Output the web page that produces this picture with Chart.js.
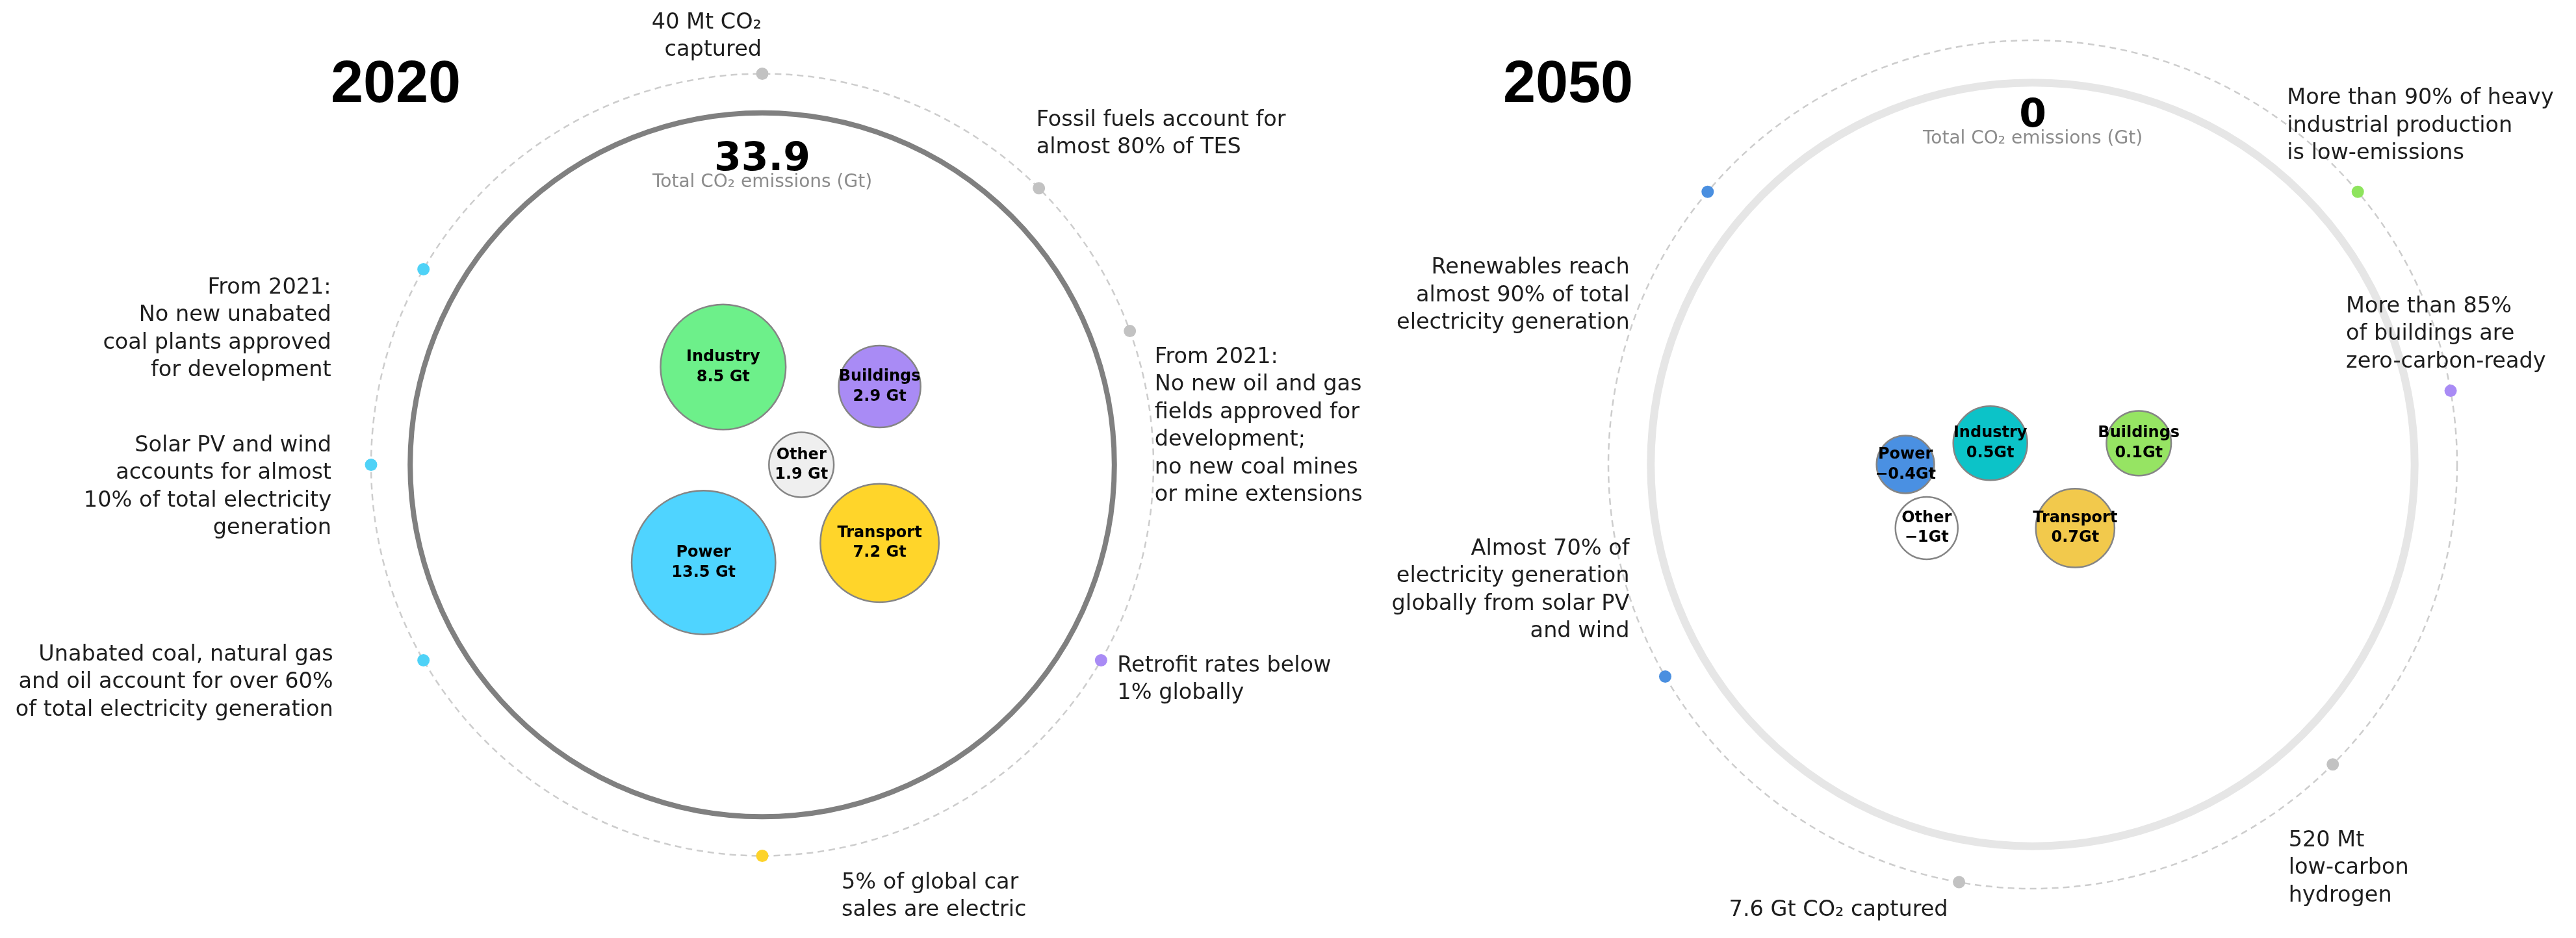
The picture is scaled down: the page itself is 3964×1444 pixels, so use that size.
<!DOCTYPE html>
<html>
<head>
<meta charset="utf-8">
<script src="https://cdn.jsdelivr.net/npm/chart.js@4.4.1/dist/chart.umd.min.js"></script>
<style>
    html, body { margin: 0; padding: 0; background: #fff; }
    #wrap { position: relative; width: 3964px; height: 1444px; }
    #wrap canvas { position: absolute; left: 0; top: 0; }
</style>
</head>
<body>
<div id="wrap">
    <canvas id="chart2020" width="3964" height="1444"></canvas>
    <canvas id="chart2050" width="3964" height="1444"></canvas>
</div>
<script>
// 부문별 CO2 배출량 (Gt)
const sectors = ['Power', 'Industry', 'Transport', 'Buildings', 'Other'];
const emissions2020 = [13.5, 8.5, 7.2, 2.9, 1.9];
const emissions2050 = [-0.4, 0.5, 0.7, 0.1, -1];
const total2020 = 33.9;
const total2050 = 0;

// 버블 배치 (바깥 원 반지름 = 10)
const bubbleX2020 = [-1.5, -1, 3, 3, 1];
const bubbleY2020 = [-2.5, 2.5, -2, 2, 0];
const bubbleX2050 = [-3, -1, 1, 2.5, -2.5];
const bubbleY2050 = [0, 0.5, -1.5, 0.5, -1.5];

// 이정표 (원 위의 각도, 도)
const milestones2020 = [
    '40 Mt CO₂\ncaptured',
    'Fossil fuels account for\nalmost 80% of TES',
    'From 2021:\nNo new oil and gas\nfields approved for\ndevelopment;\nno new coal mines\nor mine extensions',
    'Retrofit rates below\n1% globally',
    '5% of global car\nsales are electric',
    'Unabated coal, natural gas\nand oil account for over 60%\nof total electricity generation',
    'Solar PV and wind\naccounts for almost\n10% of total electricity\ngeneration',
    'From 2021:\nNo new unabated\ncoal plants approved\nfor development'
];
const angles2020 = [90, 45, 20, -30, -90, 210, 180, 150];

const milestones2050 = [
    'Renewables reach\nalmost 90% of total\nelectricity generation',
    'More than 90% of heavy\nindustrial production\nis low-emissions',
    'More than 85%\nof buildings are\nzero-carbon-ready',
    '520 Mt\nlow-carbon\nhydrogen',
    '7.6 Gt CO₂ captured',
    'Almost 70% of\nelectricity generation\nglobally from solar PV\nand wind'
];
const angles2050 = [140, 40, 10, -45, -100, 210];

// 스타일
const bubbleColors2020 = ['#4fd4ff', '#6df08a', '#ffd52a', '#a98bf5', '#efefef'];
const bubbleColors2050 = ['#4a90e2', '#0cc3c8', '#f2c94c', '#96e463', '#ffffff'];
const dotColors2020 = ['#c2c2c2', '#c2c2c2', '#c2c2c2', '#a98bf5', '#fdd32a', '#4fd2f7', '#4fd2f7', '#4fd2f7'];
const dotColors2050 = ['#4a8fe0', '#8ee45d', '#a98bf5', '#c2c2c2', '#c2c2c2', '#4a8fe0'];

// 텍스트 위치 (점 기준 오프셋, 첫 줄 baseline)
const textPos2020 = [
    { dx: -1, dy: -70, align: 'right' },
    { dx: -4, dy: -96, align: 'left' },
    { dx: 38, dy: 49, align: 'left' },
    { dx: 25, dy: 17, align: 'left' },
    { dx: 122, dy: 50, align: 'left' },
    { dx: -139, dy: 0, align: 'right' },
    { dx: -61, dy: -21, align: 'right' },
    { dx: -142, dy: 37, align: 'right' }
];
const textPos2050 = [
    { dx: -120, dy: 126, align: 'right' },
    { dx: -109, dy: -135, align: 'left' },
    { dx: -161, dy: -121, align: 'left' },
    { dx: -68, dy: 126, align: 'left' },
    { dx: -17, dy: 52, align: 'right' },
    { dx: -55, dy: -188, align: 'right' }
];

const FONT = '"DejaVu Sans", sans-serif';
const RING = 10;
const INNER_RING = 9;

// 버블 반지름 (값 -> px)
function size2020(v) { return 30 + 31 * Math.log(v); }
function size2050(v) { return v >= 0 ? 48 + 18 * v : 42 + 6 * Math.abs(v); }

function fmt2050(v) {
    return String(v).replace('-', '\u2212') + 'Gt';
}

function drawLines(ctx, text, x, y, lineH) {
    text.split('\n').forEach((line, i) => ctx.fillText(line, x, y + i * lineH));
}

const circlePlugin = {
    id: 'circles',
    beforeDatasetsDraw(chart, args, opts) {
        const ctx = chart.ctx;
        const xs = chart.scales.x, ys = chart.scales.y;
        const cx = xs.getPixelForValue(0), cy = ys.getPixelForValue(0);
        const unit = xs.getPixelForValue(1) - cx;
        ctx.save();
        // 바깥 점선 원
        ctx.beginPath();
        ctx.setLineDash([10, 7]);
        ctx.strokeStyle = '#cdcdcd';
        ctx.lineWidth = 2.5;
        ctx.arc(cx, cy, RING * unit, 0, Math.PI * 2);
        ctx.stroke();
        // 안쪽 원
        ctx.beginPath();
        ctx.setLineDash([]);
        ctx.strokeStyle = opts.innerColor;
        ctx.lineWidth = opts.innerWidth;
        ctx.arc(cx, cy, INNER_RING * unit, 0, Math.PI * 2);
        ctx.stroke();

        // 연도 제목
        ctx.fillStyle = '#000';
        ctx.textAlign = 'center';
        ctx.textBaseline = 'alphabetic';
        ctx.font = 'bold 90px "Liberation Sans", Arial, sans-serif';
        ctx.fillText(opts.year, opts.titleX, 157);

        // 총 배출량
        ctx.font = 'bold 60px ' + FONT;
        ctx.fillText(String(opts.total), cx, opts.totalY);
        ctx.fillStyle = '#8c8c8c';
        ctx.font = '28px ' + FONT;
        ctx.fillText('Total CO₂ emissions (Gt)', cx, opts.totalY + 26);
        ctx.restore();
    },
    afterDatasetsDraw(chart, args, opts) {
        const ctx = chart.ctx;
        ctx.save();
        ctx.textBaseline = 'alphabetic';

        // 버블 라벨
        const bubbles = chart.getDatasetMeta(0).data;
        ctx.fillStyle = '#000';
        ctx.textAlign = 'center';
        ctx.font = 'bold 24px ' + FONT;
        bubbles.forEach((el, i) => {
            ctx.fillText(sectors[i], el.x, el.y - 9);
            ctx.fillText(opts.valueLabels[i], el.x, el.y + 21.5);
        });

        // 이정표 텍스트
        const dots = chart.getDatasetMeta(1).data;
        ctx.fillStyle = '#1e1e1e';
        ctx.font = '33.5px ' + FONT;
        dots.forEach((el, i) => {
            const p = opts.textPos[i];
            ctx.textAlign = p.align;
            drawLines(ctx, opts.texts[i], el.x + p.dx, el.y + p.dy, 42.5);
        });
        ctx.restore();
    }
};

function makePanel(canvasId, cfg) {
    const W = 3964, H = 1444;
    const bubbleData = cfg.values.map((v, i) => ({
        x: cfg.bx[i], y: cfg.by[i], r: cfg.size(v)
    }));
    const dotData = cfg.angles.map(a => ({
        x: RING * Math.cos(a * Math.PI / 180),
        y: RING * Math.sin(a * Math.PI / 180)
    }));
    return new Chart(document.getElementById(canvasId).getContext('2d'), {
        type: 'bubble',
        data: {
            datasets: [
                {
                    label: 'Sectors',
                    data: bubbleData,
                    backgroundColor: cfg.colors,
                    borderColor: '#858585',
                    borderWidth: 2.5,
                    hoverRadius: 0
                },
                {
                    type: 'scatter',
                    label: 'Milestones',
                    data: dotData,
                    pointRadius: 9.5,
                    pointBackgroundColor: cfg.dotColors,
                    pointBorderWidth: 0,
                    showLine: false
                }
            ]
        },
        options: {
            responsive: false,
            animation: false,
            events: [],
            layout: { padding: 0, autoPadding: false },
            scales: {
                x: {
                    type: 'linear', display: false,
                    min: -cfg.centerX / cfg.unitPx,
                    max: (W - cfg.centerX) / cfg.unitPx
                },
                y: {
                    type: 'linear', display: false,
                    min: -(H - cfg.centerY) / cfg.unitPx,
                    max: cfg.centerY / cfg.unitPx
                }
            },
            plugins: {
                legend: { display: false },
                tooltip: { enabled: false },
                circles: {
                    year: cfg.year,
                    total: cfg.total,
                    totalY: cfg.totalY,
                    titleX: cfg.titleX,
                    innerColor: cfg.innerColor,
                    innerWidth: cfg.innerWidth,
                    valueLabels: cfg.valueLabels,
                    texts: cfg.texts,
                    textPos: cfg.textPos
                }
            }
        },
        plugins: [circlePlugin]
    });
}

makePanel('chart2020', {
    year: '2020', total: total2020, totalY: 262, titleX: 609,
    centerX: 1173, centerY: 715.5, unitPx: 60.2,
    innerColor: '#808080', innerWidth: 8,
    values: emissions2020, bx: bubbleX2020, by: bubbleY2020,
    size: size2020, colors: bubbleColors2020,
    valueLabels: emissions2020.map(v => v + ' Gt'),
    angles: angles2020, dotColors: dotColors2020,
    texts: milestones2020, textPos: textPos2020
});

makePanel('chart2050', {
    year: '2050', total: total2050, totalY: 195, titleX: 2413,
    centerX: 3128, centerY: 715, unitPx: 65.3,
    innerColor: '#e6e6e6', innerWidth: 12,
    values: emissions2050, bx: bubbleX2050, by: bubbleY2050,
    size: size2050, colors: bubbleColors2050,
    valueLabels: emissions2050.map(fmt2050),
    angles: angles2050, dotColors: dotColors2050,
    texts: milestones2050, textPos: textPos2050
});
</script>
</body>
</html>
